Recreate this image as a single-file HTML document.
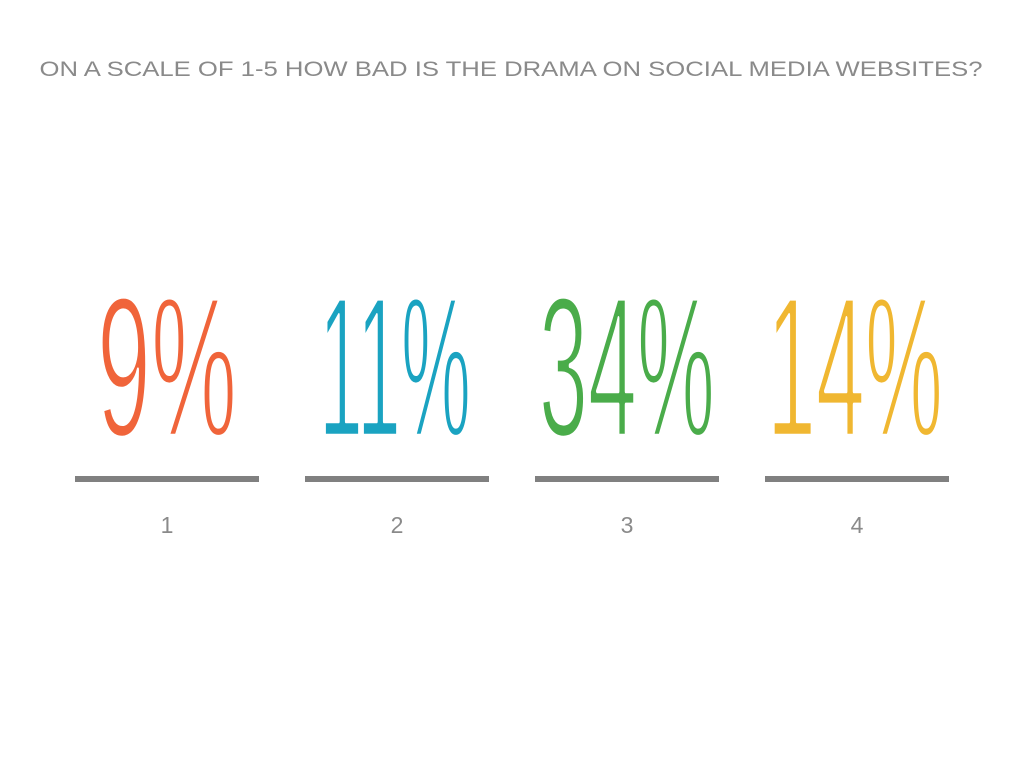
<!DOCTYPE html>
<html><head><meta charset="utf-8"><style>
html,body{margin:0;padding:0;background:#fff;}
svg{display:block;}
</style></head><body>
<svg width="1024" height="768" xmlns="http://www.w3.org/2000/svg">
<rect width="1024" height="768" fill="#fff"/>
<text x="511" y="76" text-anchor="middle" font-family="Liberation Sans, sans-serif" font-size="21" fill="#8a8a8a" textLength="943" lengthAdjust="spacingAndGlyphs">ON A SCALE OF 1-5 HOW BAD IS THE DRAMA ON SOCIAL MEDIA WEBSITES?</text>
<g font-family="Liberation Sans Narrow, Liberation Sans, sans-serif" font-size="200" stroke="#fff" stroke-width="4.5" stroke-linejoin="round">
<text x="97" y="436" fill="#f0643a" textLength="140" lengthAdjust="spacingAndGlyphs">9%</text>
<text x="319" y="436" fill="#1aa3c1" textLength="152" lengthAdjust="spacingAndGlyphs">11%</text>
<text x="539" y="436" fill="#4aac4a" textLength="176" lengthAdjust="spacingAndGlyphs">34%</text>
<text x="767" y="436" fill="#f0b731" textLength="176" lengthAdjust="spacingAndGlyphs">14%</text>
</g>
<g fill="#808080">
<rect x="75" y="476" width="184" height="6"/>
<rect x="305" y="476" width="184" height="6"/>
<rect x="535" y="476" width="184" height="6"/>
<rect x="765" y="476" width="184" height="6"/>
</g>
<g font-family="Liberation Sans, sans-serif" font-size="23" fill="#8a8a8a" text-anchor="middle">
<text x="167" y="533">1</text>
<text x="397" y="533">2</text>
<text x="627" y="533">3</text>
<text x="857" y="533">4</text>
</g>
</svg>
</body></html>
